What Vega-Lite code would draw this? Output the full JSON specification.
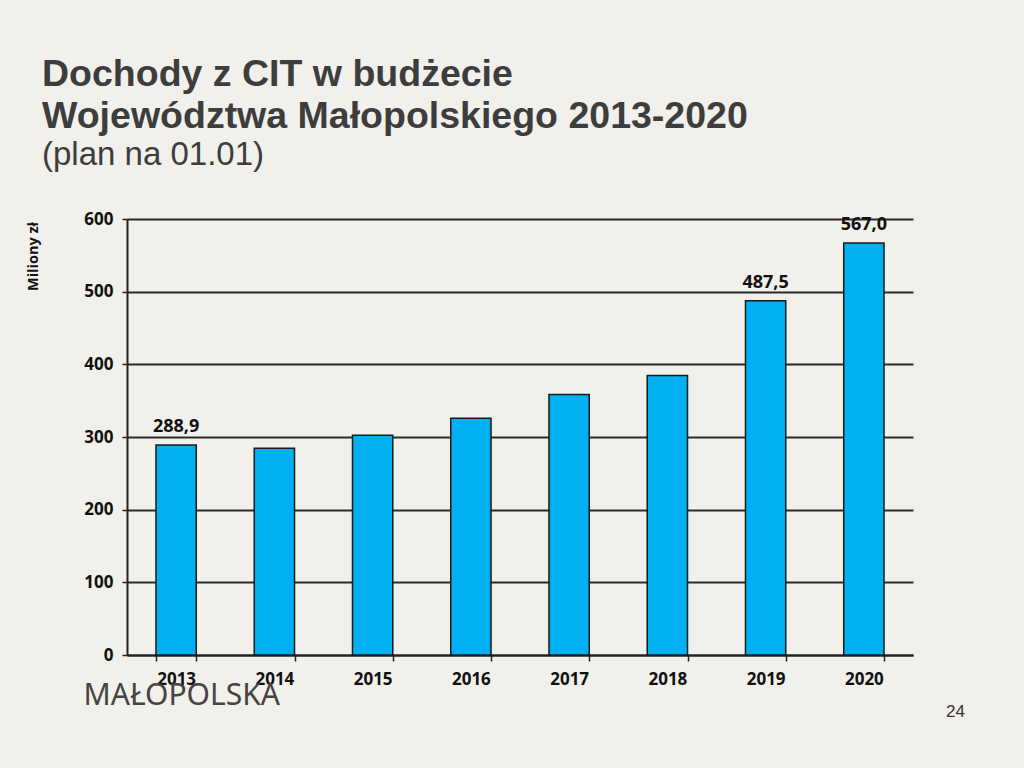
{
  "$schema": "https://vega.github.io/schema/vega-lite/v6.json",
  "autosize": {"type": "none"},
  "width": 786,
  "height": 436,
  "padding": {"left": 127, "top": 219, "right": 111, "bottom": 113},
  "background": "#f2f0ea",
  "config": {
    "view": {"stroke": null},
    "locale": {
      "number": {"decimal": ",", "thousands": " ", "grouping": [3], "currency": ["", " zł"]}
    }
  },
  "title": {
    "text": ["Dochody z CIT w budżecie", "Województwa Małopolskiego 2013-2020"],
    "subtitle": "(plan na 01.01)",
    "anchor": "start",
    "frame": "group",
    "dx": -85,
    "offset": 38,
    "font": "Liberation Sans",
    "fontSize": 37.5,
    "fontWeight": "bold",
    "lineHeight": 42,
    "color": "#3d3d3d",
    "subtitleFont": "Liberation Sans",
    "subtitleFontSize": 33,
    "subtitleFontWeight": "normal",
    "subtitleColor": "#3d3d3d",
    "subtitlePadding": 4
  },
  "data": {
    "values": [
      {"rok": "2013", "dochody": 288.9, "etykieta": true},
      {"rok": "2014", "dochody": 284.5, "etykieta": false},
      {"rok": "2015", "dochody": 302.5, "etykieta": false},
      {"rok": "2016", "dochody": 325.8, "etykieta": false},
      {"rok": "2017", "dochody": 358.5, "etykieta": false},
      {"rok": "2018", "dochody": 384.5, "etykieta": false},
      {"rok": "2019", "dochody": 487.5, "etykieta": true},
      {"rok": "2020", "dochody": 567.0, "etykieta": true}
    ]
  },
  "encoding": {
    "x": {
      "field": "rok",
      "type": "nominal",
      "sort": null,
      "scale": {"paddingInner": 0.59, "paddingOuter": 0.295},
      "axis": {
        "title": "MAŁOPOLSKA",
        "titleFont": "Noto Sans",
        "titleFontSize": 30,
        "titleFontWeight": "normal",
        "titleColor": "#444444",
        "titleAlign": "left",
        "titleBaseline": "middle",
        "titleX": -44,
        "titleY": 40,
        "labelAngle": 0,
        "labelFont": "Open Sans",
        "labelFontSize": 17,
        "labelFontWeight": "bold",
        "labelColor": "#111111",
        "labelPadding": 10,
        "tickBand": "extent",
        "tickSize": 6,
        "tickColor": "#222222",
        "tickWidth": 1.5,
        "domainColor": "#222222",
        "domainWidth": 2,
        "grid": false
      }
    },
    "y": {
      "field": "dochody",
      "type": "quantitative",
      "scale": {"domain": [0, 600], "nice": false},
      "axis": {
        "title": "Miliony zł",
        "titleFont": "Open Sans",
        "titleFontSize": 14.5,
        "titleFontWeight": "bold",
        "titleColor": "#111111",
        "titleAngle": 270,
        "titleAlign": "center",
        "titleBaseline": "middle",
        "titleX": -94,
        "titleY": 37,
        "values": [0, 100, 200, 300, 400, 500, 600],
        "labelFont": "Open Sans",
        "labelFontSize": 17,
        "labelFontWeight": "bold",
        "labelColor": "#111111",
        "labelPadding": 9,
        "tickSize": 5,
        "tickColor": "#222222",
        "tickWidth": 1.5,
        "domainColor": "#222222",
        "domainWidth": 2,
        "grid": true,
        "gridColor": "#2a2a2a",
        "gridWidth": 1.8,
        "gridOpacity": 1
      }
    }
  },
  "layer": [
    {
      "mark": {"type": "bar", "color": "#00b0f0", "stroke": "#1a1a1a", "strokeWidth": 1.5}
    },
    {
      "transform": [{"filter": "datum.etykieta"}],
      "mark": {
        "type": "text",
        "baseline": "bottom",
        "dy": -9,
        "font": "Open Sans",
        "fontSize": 18,
        "fontWeight": "bold",
        "color": "#111111"
      },
      "encoding": {
        "text": {"field": "dochody", "type": "quantitative", "format": ".1f"},
        "y": {
          "field": "dochody",
          "type": "quantitative",
          "axis": {
            "orient": "right",
            "title": "24",
            "titleFont": "Liberation Sans",
            "titleFontSize": 17,
            "titleFontWeight": "normal",
            "titleColor": "#333333",
            "titleAngle": 0,
            "titleAlign": "center",
            "titleBaseline": "middle",
            "titleX": 42,
            "titleY": 492,
            "labels": false,
            "ticks": false,
            "domain": false,
            "grid": false
          }
        }
      }
    }
  ],
  "resolve": {"axis": {"y": "independent"}}
}
